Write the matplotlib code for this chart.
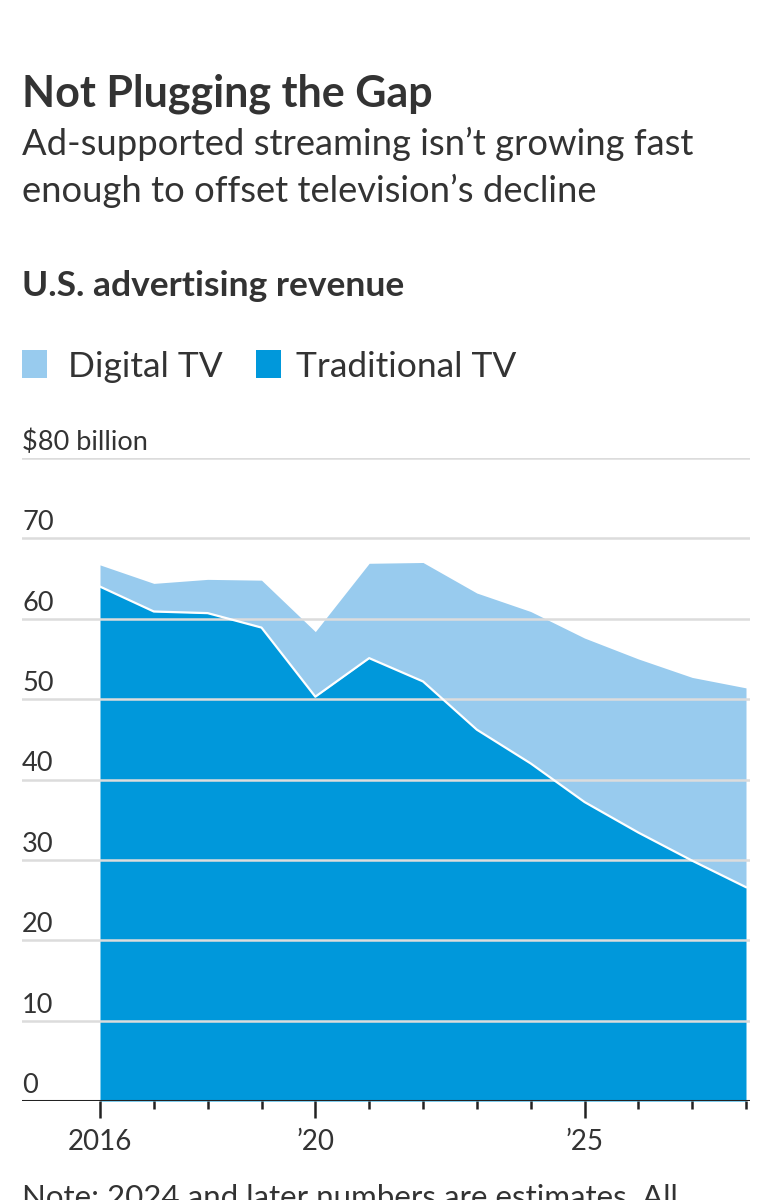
import matplotlib
matplotlib.use("Agg")
import matplotlib.pyplot as plt
from matplotlib.patches import Rectangle
import matplotlib.transforms as mtransforms

years = [2016, 2017, 2018, 2019, 2020, 2021, 2022, 2023, 2024, 2025, 2026, 2027, 2028]
total_tv = [66.7, 64.4, 64.9, 64.8, 58.4, 66.9, 67.0, 63.2, 60.9, 57.6, 55.0, 52.7, 51.4]
traditional_tv = [64.0, 60.9, 60.7, 58.9, 50.3, 55.1, 52.2, 46.2, 42.0, 37.2, 33.4, 29.9, 26.6]
y_ticks = [0, 10, 20, 30, 40, 50, 60, 70, 80]
y_labels = ["0", "10", "20", "30", "40", "50", "60", "70", "$80 billion"]
x_major = [2016, 2020, 2025]
x_major_labels = ["2016", "\u201920", "\u201925"]

C_TRAD = "#0098db"
C_DIG = "#98cbee"
TXT = "#333333"
FAM = ["Lato", "DejaVu Sans"]
plt.rcParams["font.family"] = FAM

W, H = 770, 1200
fig = plt.figure(figsize=(W / 100, H / 100), dpi=100)

def fx(px):
    return px / W

def fy(py):
    return 1 - py / H

# axes geometry in pixels
ax_left, ax_right = 22, 750
y0_px, y80_px = 1101, 458
ax = fig.add_axes([fx(ax_left), fy(y0_px), fx(ax_right - ax_left), (y0_px - y80_px) / H])
px_per_year = (746 - 100) / 12
ax.set_xlim(2016 - (100 - ax_left) / px_per_year, 2028 + (ax_right - 746) / px_per_year)
ax.set_ylim(0, 80)

ax.fill_between(years, traditional_tv, total_tv, color=C_DIG, lw=0, zorder=1)
ax.fill_between(years, 0, traditional_tv, color=C_TRAD, lw=0, zorder=1)
ax.plot(years, traditional_tv, color="white", lw=1.6, zorder=3)

for t in y_ticks[1:]:
    ax.axhline(t, color="#dcdcdc", lw=1.8, zorder=2)
ax.axhline(0, color="#222222", lw=2.2, zorder=4)

for sp in ax.spines.values():
    sp.set_visible(False)
ax.set_yticks([])
ax.set_xticks(years, minor=True)
ax.set_xticks(x_major)
ax.set_xticklabels(x_major_labels)
ax.tick_params(axis="x", which="minor", length=6, width=1.8, color="#222222", direction="out")
ax.tick_params(axis="x", which="major", length=12, width=1.8, color="#222222", direction="out",
               labelsize=20, labelcolor=TXT, pad=8)
for lab in ax.get_xticklabels():
    lab.set_family(FAM)
ax.patch.set_alpha(0)

trans = mtransforms.blended_transform_factory(ax.transAxes, ax.transData)
for t, lab in zip(y_ticks, y_labels):
    ax.text(0, t + 1.0, lab, transform=trans, ha="left", va="baseline", fontsize=19.5, color=TXT,
            family=FAM)

# header texts
fig.text(fx(22), fy(106), "Not Plugging the Gap", fontsize=31, fontweight="bold", color=TXT,
         ha="left", va="baseline", family=FAM)
fig.text(fx(22), fy(155), "Ad-supported streaming isn\u2019t growing fast", fontsize=26.2, color=TXT,
         ha="left", va="baseline", family=FAM)
fig.text(fx(22), fy(202), "enough to offset television\u2019s decline", fontsize=26.2, color=TXT,
         ha="left", va="baseline", family=FAM)
fig.text(fx(22), fy(296), "U.S. advertising revenue", fontsize=25.5, fontweight="bold", color=TXT,
         ha="left", va="baseline", family=FAM)

# legend
fig.patches.append(Rectangle((fx(22), fy(378)), fx(25), 28 / H, transform=fig.transFigure,
                             color=C_DIG, lw=0))
fig.text(fx(68), fy(377), "Digital TV", fontsize=25.5, color=TXT, ha="left", va="baseline", family=FAM)
fig.patches.append(Rectangle((fx(256), fy(378)), fx(25), 28 / H, transform=fig.transFigure,
                             color=C_TRAD, lw=0))
fig.text(fx(296), fy(377), "Traditional TV", fontsize=25.5, color=TXT, ha="left", va="baseline", family=FAM)

fig.text(fx(22), fy(1207), "Note: 2024 and later numbers are estimates. All", fontsize=22.5, color=TXT,
         ha="left", va="baseline", family=FAM)

fig.savefig("out.png", dpi=100, facecolor="white")
